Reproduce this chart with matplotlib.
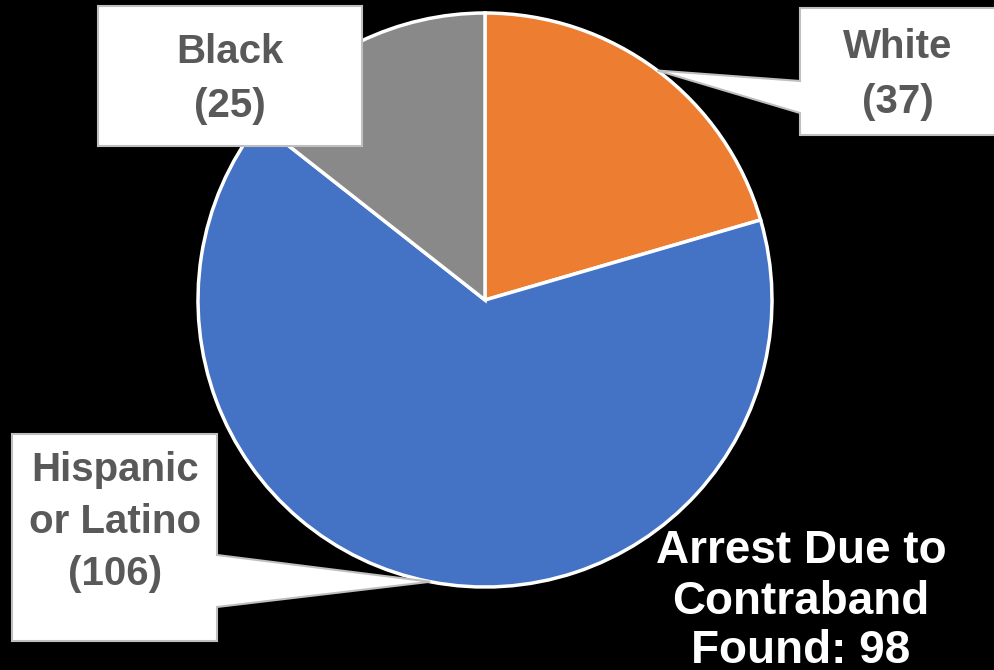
import numpy as np
import matplotlib.pyplot as plt
from matplotlib.patches import Polygon

# data
groups = ['White', 'Hispanic\nor Latino', 'Black']
counts = [37, 106, 25]                 # numbers printed in the labels
shares = [20.5, 65.1, 14.4]            # slice sizes (%) as drawn in the picture
colors = ['#ED7D31', '#4472C4', '#898989']
title_lines = ['Arrest Due to', 'Contraband', 'Found: 98']

W, H = 994, 670
plt.rcParams['font.family'] = ['Liberation Sans', 'DejaVu Sans']


def Y(y):
    # pixel row (top origin) -> data y
    return H - y


fig = plt.figure(figsize=(W / 100, H / 100), dpi=100, facecolor='black')
ax = fig.add_axes([0, 0, 1, 1])
ax.set_facecolor('black')

cx, cy, r = 485, Y(300), 287
wedges, _ = ax.pie(shares, colors=colors, startangle=90, counterclock=False,
                   center=(cx, cy), radius=r,
                   wedgeprops=dict(edgecolor='white', linewidth=2.5))
ax.set_xlim(0, W)
ax.set_ylim(0, H)
ax.set_aspect('auto')
ax.axis('off')

# callout boxes: (x0, y0, x1, y1), pointer side, pointer base rows, text x, baselines
boxes = {
    'White': ((800, 8, 1000, 135), 'left', (81, 113), 898, [58, 113]),
    'Hispanic\nor Latino': ((12, 434, 217, 641), 'right', (555, 607), 115, [481, 533, 585]),
    'Black': ((98, 6, 362, 146), None, None, 230, [63, 117]),
}

for g, n, w in zip(groups, counts, wedges):
    (x0, y0, x1, y1), side, base, tx, baselines = boxes[g]
    mid = np.deg2rad((w.theta1 + w.theta2) / 2)
    tip = (cx + r * np.cos(mid), cy + r * np.sin(mid))
    if side == 'left':
        verts = [(x0, Y(y0)), (x1, Y(y0)), (x1, Y(y1)), (x0, Y(y1)),
                 (x0, Y(base[1])), tip, (x0, Y(base[0]))]
    elif side == 'right':
        verts = [(x0, Y(y0)), (x1, Y(y0)), (x1, Y(base[0])), tip,
                 (x1, Y(base[1])), (x1, Y(y1)), (x0, Y(y1))]
    else:
        verts = [(x0, Y(y0)), (x1, Y(y0)), (x1, Y(y1)), (x0, Y(y1))]
    ax.add_patch(Polygon(verts, closed=True, facecolor='white',
                         edgecolor='#BFBFBF', linewidth=1.5, zorder=5))
    lines = g.split('\n') + [f'({n})']
    for line, by in zip(lines, baselines):
        ax.text(tx, Y(by), line, ha='center', va='baseline', fontsize=29,
                fontweight='bold', color='#595959', zorder=6)

for line, by in zip(title_lines, [563, 614, 663]):
    ax.text(801, Y(by), line, ha='center', va='baseline', fontsize=33,
            fontweight='bold', color='white', zorder=6)

fig.savefig('out.png', dpi=100, facecolor='black')
